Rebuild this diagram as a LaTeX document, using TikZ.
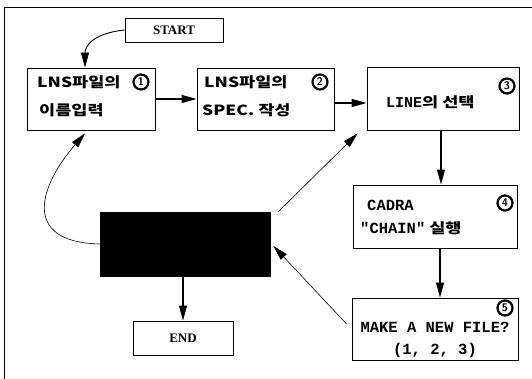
\documentclass[tikz,border=0pt]{standalone}
\usepackage{fontspec}
\setmainfont{Liberation Serif}
\newfontfamily\kr[FakeStretch=1.25]{Noto Sans CJK KR}
\newfontfamily\mono{Liberation Mono}
\usetikzlibrary{arrows.meta}
\begin{document}
\begin{tikzpicture}[x=1pt,y=-1pt,
  box/.style={draw,line width=0.9pt,inner sep=0pt},
  num/.style={circle,draw,line width=2.2pt,inner sep=0pt,minimum size=15pt,font=\fontsize{11}{11}\selectfont\bfseries\sffamily},
  conn/.style={line width=1.2pt,-{Triangle[length=15pt,width=8pt]}},
  thin/.style={line width=0.6pt,-{Triangle[length=15pt,width=8pt]}},
  lbl/.style={anchor=west,inner sep=0pt},
  krf/.style={font=\kr\bfseries\fontsize{14}{14}\selectfont},
  monof/.style={font=\mono\bfseries\fontsize{15.5}{15.5}\selectfont}]
\useasboundingbox (0,0) rectangle (532,379);
% frame
\draw[line width=0.7pt] (4,379) -- (4,7) -- (532,7);
% boxes
\node[box,minimum width=98pt,minimum height=24pt,font=\bfseries\fontsize{13}{13}\selectfont] (start) at (174,30) {START};
\node[box,minimum width=128pt,minimum height=62pt] (b1) at (91,99) {};
\node[box,minimum width=137pt,minimum height=62pt] (b2) at (265.5,99) {};
\node[box,minimum width=152pt,minimum height=63pt] (b3) at (443,98.5) {};
\node[box,minimum width=164pt,minimum height=63pt] (b4) at (435,216.5) {};
\node[box,minimum width=166pt,minimum height=62pt] (b5) at (435,329) {};
\node[box,fill=black,minimum width=170pt,minimum height=64pt] (blk) at (185,244) {};
\node[box,minimum width=100pt,minimum height=34pt,font=\bfseries\fontsize{13}{13}\selectfont] (end) at (183,338) {END};
% texts
\node[lbl,krf] (t1a) at (37,82) {LNS파일의};
\node[lbl,krf] (t1b) at (39,110) {이름입력};
\node[lbl,krf] (t2a) at (204,82) {LNS파일의};
\node[lbl,krf] (t2b) at (202,110) {SPEC. 작성};
\node[lbl,krf] (t3) at (386,102) {{\mono\fontsize{15}{15}\selectfont LINE}의 선택};
\node[lbl,monof] (t4a) at (367,205) {CADRA};
\node[lbl,krf] (t4b) at (360,228) {{\mono\fontsize{15.5}{15.5}\selectfont "CHAIN"} 실행};
\node[monof,inner sep=0pt] (t5a) at (435,327) {MAKE A NEW FILE?};
\node[monof,inner sep=0pt] (t5b) at (435,350) {(1, 2, 3)};
% numbers
\node[num] (n1) at (141,82) {1};
\node[num] (n2) at (320,82) {2};
\node[num] (n3) at (507,86) {3};
\node[num] (n4) at (505,203) {4};
\node[num] (n5) at (505,308) {5};
% connectors
\draw[conn,line width=0.9pt] (start.west) .. controls (95,33) and (85,45) .. ([xshift=-6pt]b1.north);
\draw[conn] (b1.east) -- (b2.west);
\draw[conn] ([yshift=-4pt]b2.east) -- ([yshift=-4pt]b2.east -| b3.west);
\draw[conn] ([xshift=-2pt]b3.south) -- ([xshift=-2pt]b3.south |- b4.north);
\draw[conn] ([xshift=5pt]b4.south) -- ([xshift=5pt]b4.south |- b5.north);
\draw[thin] ([xshift=-5pt,yshift=5pt]b5.west) -- ([xshift=3pt,yshift=-2pt]blk.east);
\draw[thin] ([xshift=8pt]blk.north east) -- ([xshift=-9pt,yshift=-3pt]b3.south west);
\draw[conn] (end.north |- blk.south) -- (end.north);
\draw[thin] (blk.west) .. controls (20,242) and (40,185) .. ([xshift=-6pt,yshift=-3pt]b1.south);
\end{tikzpicture}
\end{document}
